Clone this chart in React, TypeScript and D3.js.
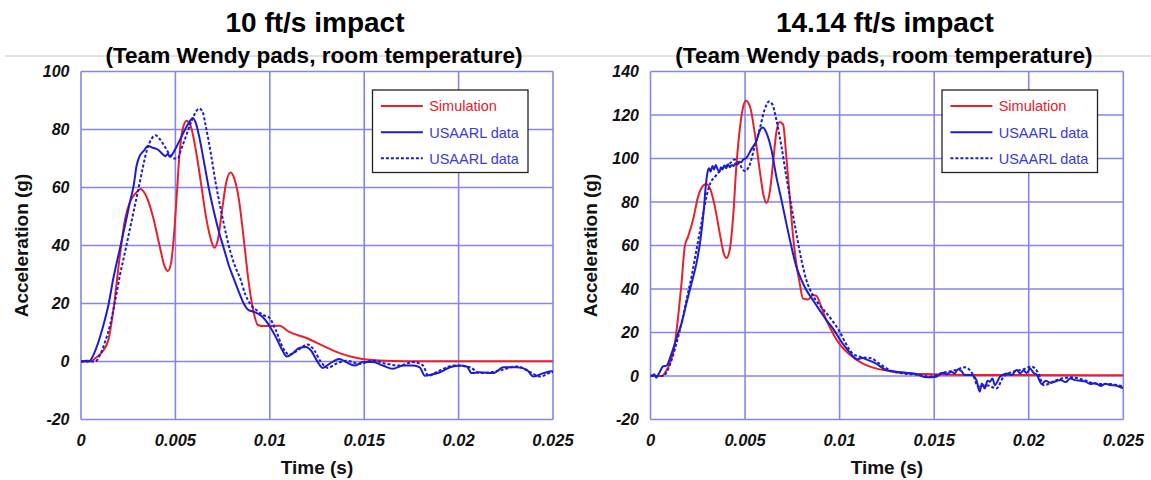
import React from "react";
import * as d3 from "d3";

type Pt = [number, number];

// ---------- tick labels ----------
const xTicks = [0, 0.005, 0.01, 0.015, 0.02, 0.025];
const xTickLabels = ["0", "0.005", "0.01", "0.015", "0.02", "0.025"];
const yTicksLeft = [-20, 0, 20, 40, 60, 80, 100];
const yTicksRight = [-20, 0, 20, 40, 60, 80, 100, 120, 140];

const legendLabels = ["Simulation", "USAARL data", "USAARL data"];
const titles = ["10 ft/s impact", "14.14 ft/s impact"];
const subtitle = "(Team Wendy pads, room temperature)";

// ---------- 10 ft/s ----------
const leftSim: Pt[] = [
  [0, 0], [0.0005, 0], [0.00075, 1.1], [0.0012, 4], [0.00145, 7.4], [0.0017, 17], [0.00206, 36.6],
  [0.00233, 49], [0.00259, 55], [0.00294, 58.3], [0.00315, 59.5], [0.00346, 57], [0.00381, 50],
  [0.00416, 40], [0.00442, 33], [0.0046, 31.2], [0.00477, 34], [0.00495, 45.7], [0.00507, 57],
  [0.00521, 70.9], [0.00538, 80], [0.0056, 83], [0.00582, 81], [0.00608, 73], [0.00635, 61.7],
  [0.00661, 50.3], [0.00687, 42.3], [0.00706, 39.2], [0.00726, 42.3], [0.00748, 52.6], [0.00769, 61.7],
  [0.00792, 65.2], [0.00813, 62.9], [0.00836, 56], [0.00862, 42.3], [0.00888, 27.4], [0.00914, 17.1],
  [0.00937, 12.6], [0.00967, 12.2], [0.0105, 12.3], [0.01103, 10.2], [0.01191, 8.2], [0.0128, 5.5],
  [0.01369, 2.9], [0.01457, 1.3], [0.01582, 0.35], [0.01723, 0.1], [0.025, 0.1],
];
const leftData1: Pt[] = [
  [0, 0], [0.0003, 0.3], [0.00045, 0.2], [0.00066, 2.3], [0.00093, 6.9], [0.00119, 12.6], [0.00145, 19.4],
  [0.00171, 28.6], [0.00206, 38.9], [0.00233, 46.9], [0.00259, 54.9], [0.0028, 61.1], [0.00294, 67.4],
  [0.00311, 70.9], [0.00332, 72.6], [0.00355, 74.3], [0.00381, 73.7], [0.00407, 73.1], [0.00434, 71.4],
  [0.00447, 70.8], [0.0046, 71.6], [0.0047, 70.6], [0.00477, 70.9], [0.00503, 73.7], [0.0053, 77.2],
  [0.00556, 80.6], [0.00577, 82.9], [0.00591, 84], [0.00608, 82.3], [0.00629, 76.6], [0.00652, 68.6],
  [0.00678, 59.4], [0.00705, 51.4], [0.00731, 44.6], [0.00757, 38.9], [0.00783, 33.1], [0.00809, 28.6],
  [0.00836, 24], [0.00862, 20], [0.00888, 17.7], [0.00917, 17.1], [0.00961, 15.4], [0.00996, 12.5],
  [0.01032, 8.4], [0.01067, 3.8], [0.0109, 1.7], [0.0112, 2.7], [0.01156, 4.7], [0.01191, 5],
  [0.01218, 3.8], [0.01254, -0.2], [0.0128, -2.2], [0.01316, -0.8], [0.01369, 0.9], [0.01404, -0.2],
  [0.01449, -1.4], [0.01493, -0.2], [0.01546, -0.2], [0.01599, -1.4], [0.01652, -2.5], [0.01706, -1.4],
  [0.01759, -1.4], [0.01794, -2], [0.01821, -4.9], [0.01856, -4.5], [0.01901, -3.7], [0.01954, -2],
  [0.02007, -1.4], [0.02043, -1.7], [0.02069, -4], [0.02113, -3.7], [0.02184, -4], [0.02238, -2],
  [0.02309, -2], [0.02362, -2.9], [0.02397, -5.2], [0.0245, -4], [0.02495, -3.4], [0.025, -3.5],
];
const leftData2: Pt[] = [
  [0, 0], [0.00075, 0], [0.00101, 2.3], [0.00128, 6.9], [0.00154, 12.6], [0.0018, 20.6], [0.00206, 29.7],
  [0.00233, 37.7], [0.00259, 45.7], [0.00285, 53.7], [0.00311, 61.7], [0.00329, 67.4], [0.0035, 73.1],
  [0.00372, 76.6], [0.00395, 78], [0.00416, 76.8], [0.00442, 74.3], [0.00469, 71.4], [0.0049, 70],
  [0.00512, 70], [0.0053, 73.1], [0.00556, 77.7], [0.00582, 82.3], [0.00605, 85.7], [0.00626, 87.2],
  [0.00643, 86.3], [0.00661, 81.1], [0.00687, 72], [0.00713, 61.7], [0.0074, 52.6], [0.00766, 44.6],
  [0.00792, 37.7], [0.00818, 32.5], [0.00844, 28.5], [0.00871, 23], [0.00897, 19.8], [0.00932, 17.6],
  [0.00967, 16], [0.00996, 15.2], [0.01032, 10.8], [0.01067, 5], [0.01103, 2.4], [0.01147, 3.8],
  [0.012, 5.9], [0.01236, 3.8], [0.01271, -0.2], [0.01307, -2.2], [0.01351, -0.8], [0.01404, 0.3],
  [0.01475, -0.8], [0.01546, 0.3], [0.01617, -0.8], [0.01688, -1.4], [0.01759, -0.2], [0.01812, -1.4],
  [0.01839, -4.9], [0.01901, -3.1], [0.01972, -1.4], [0.0206, -2], [0.02113, -4], [0.0222, -3.1],
  [0.02309, -1.7], [0.0238, -3.7], [0.02433, -5.2], [0.02495, -3.7], [0.025, -3.8],
];

// ---------- 14.14 ft/s ----------
const rightSim: Pt[] = [
  [0, 0], [0.0006, 0], [0.00076, 1.4], [0.00102, 5.7], [0.00129, 14.9], [0.00146, 27.2], [0.00164, 42.6],
  [0.00181, 59.5], [0.00199, 64.2], [0.00225, 71.8], [0.00252, 82.6], [0.00278, 87.5], [0.00296, 88.3],
  [0.00317, 85.7], [0.0034, 78], [0.00366, 65.7], [0.00387, 56.5], [0.00401, 54.2], [0.00419, 58],
  [0.00437, 73.4], [0.00454, 96.5], [0.00472, 113.4], [0.00489, 123.4], [0.00504, 126.5], [0.00525, 124.2],
  [0.00551, 111.8], [0.00577, 94.9], [0.00599, 82.6], [0.00613, 79.5], [0.0063, 84.2], [0.00648, 98],
  [0.00665, 111.8], [0.00683, 116.8], [0.00701, 115.7], [0.00718, 101], [0.00736, 82.6], [0.00754, 64.2],
  [0.00771, 51.8], [0.00789, 42.6], [0.00806, 35.7], [0.00833, 35.2], [0.00859, 37.2], [0.00877, 36.8],
  [0.00903, 31.8], [0.0093, 25.7], [0.00956, 21.1], [0.00979, 17.4], [0.01014, 13.2], [0.01067, 8.9],
  [0.01121, 5.8], [0.01191, 3.5], [0.0128, 2], [0.01369, 1.2], [0.01493, 0.8], [0.01723, 0.5], [0.025, 0.3],
];
const rightData1: Pt[] = [
  [0, 0.5], [0.0001, 0.2], [0.0002, 0.8], [0.0003, -0.8], [0.0004, 0.5], [0.00049, 1.8], [0.00058, 3.5],
  [0.00067, 4.5], [0.00085, 4.8], [0.00111, 10.3], [0.00137, 17.2], [0.00164, 24.2], [0.0019, 33.4],
  [0.00217, 42.6], [0.00243, 51.8], [0.00264, 62.6], [0.00282, 76.5], [0.00292, 87.2], [0.00301, 93.4],
  [0.0031, 95.5], [0.00318, 94], [0.00328, 96.5], [0.00336, 95], [0.00345, 97], [0.00355, 95],
  [0.00365, 93.8], [0.00372, 96], [0.0038, 95], [0.0039, 96.8], [0.004, 95.5], [0.0041, 97.3],
  [0.0042, 96], [0.0043, 97], [0.0044, 96.5], [0.0045, 97.8], [0.0046, 97.2], [0.0047, 98.5],
  [0.0048, 98.2], [0.0049, 99.5], [0.00507, 100.3], [0.00533, 104.2], [0.0056, 108], [0.00581, 113.4],
  [0.00595, 114.2], [0.00613, 111.8], [0.00639, 104.2], [0.00665, 91.8], [0.00692, 81.1], [0.00718, 70.3],
  [0.00745, 59.5], [0.00771, 50.3], [0.00798, 44.2], [0.00824, 39.5], [0.00859, 34.9], [0.00894, 30.3],
  [0.0093, 25.7], [0.00965, 21.8], [0.00996, 17.5], [0.0105, 11.2], [0.01094, 7.7], [0.0112, 8.3],
  [0.01147, 7.4], [0.01191, 5.8], [0.01245, 2.8], [0.01298, 2], [0.01351, 1.5], [0.01404, 0.9],
  [0.01457, -0.6], [0.01511, -0.3], [0.01546, 1.5], [0.01565, 0.8], [0.0159, 2], [0.01608, 1.2],
  [0.01626, 3.1], [0.01645, 2.2], [0.01661, 0.5], [0.01697, 0.5], [0.01723, -1.8], [0.01741, -7.2],
  [0.01752, -3.5], [0.01768, -5.7], [0.01782, -2.2], [0.01794, -2.6], [0.01808, -1.2], [0.01821, -4.2],
  [0.01848, -0.3], [0.01865, 0.6], [0.01883, 1.2], [0.0191, 0.5], [0.01936, 2.8], [0.01955, 1.2],
  [0.01972, 2.5], [0.0199, 1.4], [0.02007, 3.5], [0.02025, 1.5], [0.02043, 0.5], [0.02069, -3.7],
  [0.0209, -2.2], [0.02113, -3.1], [0.0214, -2.5], [0.02167, -1.8], [0.02195, -2.8], [0.0222, -1.1],
  [0.02245, -1.9], [0.02273, -2.2], [0.023, -2.6], [0.02326, -3.7], [0.02352, -3.2], [0.0238, -4.6],
  [0.02405, -3.6], [0.02433, -4.2], [0.0246, -4.4], [0.02495, -5.4], [0.025, -5.5],
];
const rightData2: Pt[] = [
  [0, 0], [0.0007, 0], [0.00085, 1.8], [0.00111, 7.2], [0.00137, 14.9], [0.00164, 24.2], [0.0019, 34.9],
  [0.00217, 45.7], [0.00243, 58], [0.00269, 70.3], [0.00296, 82.6], [0.00317, 88.8], [0.0034, 91.5],
  [0.00366, 94.2], [0.00393, 96.2], [0.00419, 97.7], [0.00445, 99.5], [0.00472, 97.2], [0.00498, 94.2],
  [0.00525, 97.2], [0.00551, 105.7], [0.00577, 113.4], [0.00604, 122.6], [0.00627, 126.2], [0.00644, 124.9],
  [0.00665, 118], [0.00692, 105.7], [0.00718, 91.8], [0.00745, 78], [0.00771, 65.7], [0.00798, 53.4],
  [0.00824, 44.2], [0.00859, 37], [0.0089, 33], [0.0093, 29], [0.00965, 25], [0.00996, 21],
  [0.01032, 15.1], [0.01067, 10.5], [0.01121, 8.6], [0.01165, 8.2], [0.01209, 5.8], [0.01262, 2.8],
  [0.01333, 1.2], [0.01422, 0.5], [0.01475, -0.3], [0.01546, 1.5], [0.01617, 2.8], [0.01661, 4],
  [0.01706, 0.5], [0.01732, -4.9], [0.01777, -4.2], [0.0183, -5.7], [0.01865, -0.6], [0.01918, 2],
  [0.01972, 3.1], [0.02016, 4.3], [0.02051, 1.2], [0.02078, -4.2], [0.02149, -1.8], [0.0222, -0.6],
  [0.02291, -1.8], [0.02362, -3.7], [0.02433, -3.7], [0.02495, -4.6], [0.025, -4.6],
];

// ---------- styles ----------
const FONT = "'Liberation Sans', Arial, Helvetica, sans-serif";
const GRID = "#8585ee";
const RED = "#e8202a";
const BLUE = "#1c1cd0";
const BLUE_TEXT = "#3a3ad6";

type PanelProps = {
  id: string;
  left: number;
  right: number;
  yMax: number;
  yTicks: number[];
  title: string;
  sim: Pt[];
  d1: Pt[];
  d2: Pt[];
};

const TOP = 71.5;
const BOTTOM = 419.5;

function Panel({ id, left, right, yMax, yTicks, title, sim, d1, d2 }: PanelProps) {
  const x = d3.scaleLinear().domain([0, 0.025]).range([left, right]);
  const y = d3.scaleLinear().domain([-20, yMax]).range([BOTTOM, TOP]);
  const smooth = d3.line<Pt>().x((d) => x(d[0])).y((d) => y(d[1])).curve(d3.curveMonotoneX);
  const cx = (left + right) / 2;
  const cy = (TOP + BOTTOM) / 2;
  const lgX = left + 291.5;
  const lgY = 90;
  const rows = [
    { label: legendLabels[0], color: RED, text: RED, dash: undefined as string | undefined },
    { label: legendLabels[1], color: BLUE, text: BLUE_TEXT, dash: undefined as string | undefined },
    { label: legendLabels[2], color: BLUE, text: BLUE_TEXT, dash: "3,2" },
  ];
  const rowY = [16, 42.3, 68.3];
  return (
    <g fontFamily={FONT}>
      <defs>
        <clipPath id={`clip-${id}`}>
          <rect x={left} y={TOP} width={right - left} height={BOTTOM - TOP} />
        </clipPath>
      </defs>
      <text x={cx - 2} y={31.7} textAnchor="middle" fontSize={28} fontWeight="bold" fill="#000">
        {title}
      </text>
      <text x={cx - 3} y={63} textAnchor="middle" fontSize={22.6} fontWeight="bold" fill="#000">
        {subtitle}
      </text>
      {/* grid */}
      {xTicks.map((t) => (
        <line key={`gx${t}`} x1={x(t)} x2={x(t)} y1={TOP} y2={BOTTOM} stroke={GRID} strokeWidth={1.6} />
      ))}
      {yTicks.map((v) => (
        <line key={`gy${v}`} x1={left} x2={right} y1={y(v)} y2={y(v)} stroke={GRID} strokeWidth={1.6} />
      ))}
      {/* tick labels */}
      {xTicks.map((t, i) => (
        <text key={`tx${t}`} x={x(t)} y={445.7} textAnchor="middle" fontSize={16.5} fontWeight="bold" fontStyle="italic" fill="#111">
          {xTickLabels[i]}
        </text>
      ))}
      {yTicks.map((v) => (
        <text key={`ty${v}`} x={left - 11.5} y={y(v) + 5.8} textAnchor="end" fontSize={16} fontWeight="bold" fontStyle="italic" fill="#111">
          {String(v)}
        </text>
      ))}
      {/* axis titles */}
      <text x={cx} y={473.5} textAnchor="middle" fontSize={19} fontWeight="bold" fill="#111">
        Time (s)
      </text>
      <text
        transform={`translate(${left - 53.5},${cy}) rotate(-90)`}
        textAnchor="middle"
        fontSize={19}
        fontWeight="bold"
        fill="#111"
      >
        Acceleration (g)
      </text>
      {/* series */}
      <g clipPath={`url(#clip-${id})`}>
        <path d={smooth(sim) || ""} fill="none" stroke={RED} strokeWidth={2} />
        <path d={smooth(d2) || ""} fill="none" stroke={BLUE} strokeWidth={2} strokeDasharray="3,2" />
        <path d={smooth(d1) || ""} fill="none" stroke={BLUE} strokeWidth={2} />
      </g>
      {/* legend */}
      <rect x={lgX} y={lgY} width={155.5} height={82.5} fill="#fff" stroke="#222" strokeWidth={1.3} />
      {rows.map((r, i) => (
        <g key={`lg${i}`}>
          <line
            x1={lgX + 8.4}
            x2={lgX + 50.4}
            y1={lgY + rowY[i]}
            y2={lgY + rowY[i]}
            stroke={r.color}
            strokeWidth={2}
            strokeDasharray={r.dash}
          />
          <text x={lgX + 56.7} y={lgY + rowY[i] + 5.2} fontSize={14.5} fill={r.text}>
            {r.label}
          </text>
        </g>
      ))}
    </g>
  );
}

export default function App() {
  return (
    <svg
      width={1151}
      height={480}
      viewBox="0 0 1151 480"
      style={{ position: "absolute", left: 0, top: 0, background: "#fff" }}
    >
      <rect x={0} y={0} width={1151} height={480} fill="#fff" />
      <line x1={5} x2={1151} y1={56} y2={56} stroke="#c4c4c4" strokeWidth={1} />
      <Panel
        id="a"
        left={81}
        right={553}
        yMax={100}
        yTicks={yTicksLeft}
        title={titles[0]}
        sim={leftSim}
        d1={leftData1}
        d2={leftData2}
      />
      <Panel
        id="b"
        left={650.5}
        right={1123.3}
        yMax={140}
        yTicks={yTicksRight}
        title={titles[1]}
        sim={rightSim}
        d1={rightData1}
        d2={rightData2}
      />
    </svg>
  );
}
